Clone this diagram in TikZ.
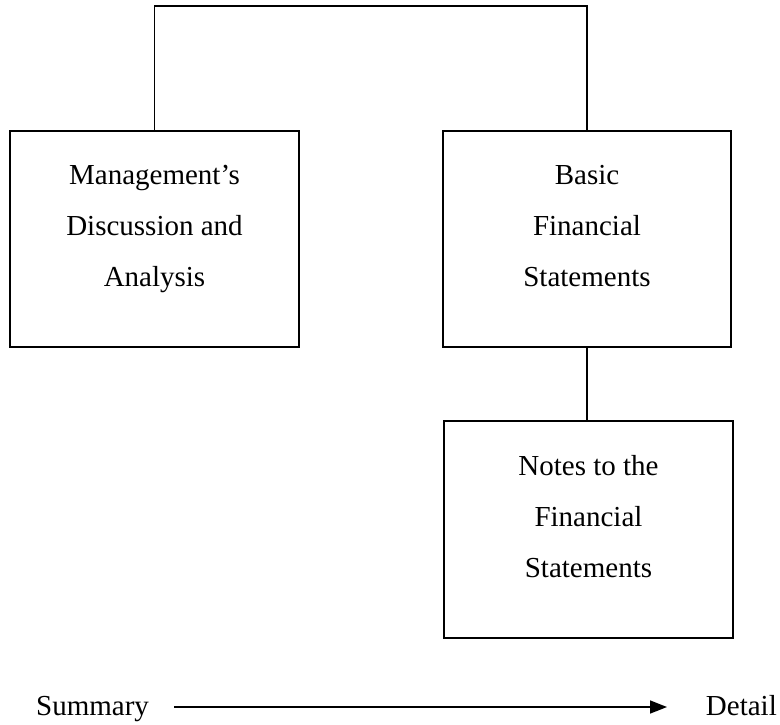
\documentclass[tikz,border=0pt]{standalone}
\usepackage{fontspec}
\setmainfont{Liberation Serif}
\usetikzlibrary{arrows.meta}
\begin{document}
\begin{tikzpicture}[x=1pt,y=-1pt,
  box/.style={draw, line width=1.8pt, rectangle, inner sep=0pt, minimum width=289pt, minimum height=216pt},
  lbl/.style={inner sep=0pt, align=center, font=\fontsize{29}{51}\selectfont},
  word/.style={inner sep=0pt, font=\fontsize{29}{35}\selectfont},
  conn/.style={line width=1.8pt, line join=miter}]
\useasboundingbox (0,0) rectangle (780,724);
\node[box] (mda) at (154.5,239) {};
\node[box, minimum width=288pt] (bfs) at (587,239) {};
\node[box, minimum height=217pt] (notes) at (588.5,529.5) {};
\node[lbl] (mdat) at (154.5,229) {Management’s\\Discussion and\\Analysis};
\node[lbl] (bfst) at (587,226.5) {Basic\\Financial\\Statements};
\node[lbl] (notest) at (588.5,516.5) {Notes to the\\Financial\\Statements};
\coordinate (topc) at (370,6);
\draw[conn] (mda.north) |- (topc) -| (bfs.north);
\draw[conn] (bfs.south) -- (bfs.south |- notes.north);
\node[word, anchor=base west] (sum) at (36,715) {Summary};
\node[word, anchor=base east] (det) at (777,715) {Detail};
\coordinate (a1) at (174,707);
\coordinate (a2) at (667,707);
\draw[line width=1.6pt, -{Triangle[length=17pt,width=13pt]}] (a1) -- (a2);
\end{tikzpicture}
\end{document}
